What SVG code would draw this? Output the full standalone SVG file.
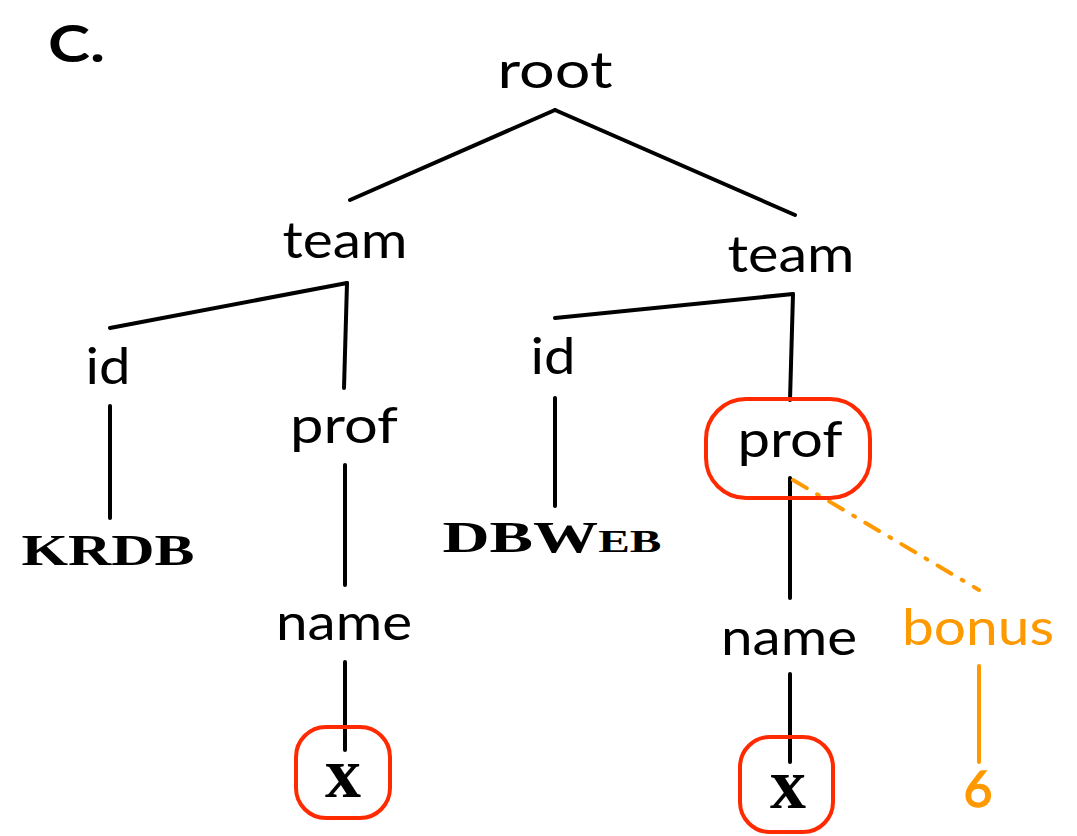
<svg xmlns="http://www.w3.org/2000/svg" width="1077" height="836" viewBox="0 0 1077 836">
<style>
.t{font-family:Lato,"Open Sans",sans-serif;font-size:50px;fill:#000;text-anchor:middle}
.o{fill:#FF9900}
.caps{font-family:"Liberation Serif",serif;font-weight:bold;font-size:44px;text-anchor:middle}
.xv{font-family:"Liberation Serif",serif;font-weight:bold;font-size:72px;text-anchor:middle}
.e{stroke:#000;stroke-width:4;stroke-linecap:round;fill:none}
.eo{stroke:#FF9900;stroke-width:4;stroke-linecap:round;fill:none}
.box{fill:none;stroke:#FF2A00;stroke-width:4}
</style>
<rect width="1077" height="836" fill="#fff"/>
<text x="48" y="62" font-family="Lato,sans-serif" font-weight="bold" font-size="52" textLength="57" lengthAdjust="spacingAndGlyphs">C.</text>
<g id="connectors">
<line class="e" x1="555" y1="110" x2="350" y2="200"/>
<line class="e" x1="555" y1="110" x2="795" y2="215"/>
<line class="e" x1="347" y1="283" x2="110" y2="328"/>
<line class="e" x1="347" y1="283" x2="344" y2="388"/>
<line class="e" x1="110" y1="406" x2="110" y2="518"/>
<line class="e" x1="345" y1="465" x2="345" y2="585"/>
<line class="e" x1="345" y1="662" x2="345" y2="750"/>
<line class="e" x1="793" y1="294" x2="555" y2="318"/>
<line class="e" x1="793" y1="294" x2="790" y2="400"/>
<line class="e" x1="555" y1="398" x2="555" y2="506"/>
<line class="e" x1="790" y1="478" x2="790" y2="598"/>
<line class="e" x1="790" y1="674" x2="790" y2="762"/>
<line class="eo" x1="793" y1="480" x2="979" y2="590" stroke-dasharray="16 12 2 12"/>
<line class="eo" x1="979" y1="666" x2="979" y2="762"/>
</g>
<g id="root"><text class="t" x="555" y="88" textLength="115" lengthAdjust="spacingAndGlyphs">root</text></g>
<g id="team1"><text class="t" x="345" y="258" textLength="125" lengthAdjust="spacingAndGlyphs">team</text></g>
<g id="team2"><text class="t" x="791" y="272" textLength="127" lengthAdjust="spacingAndGlyphs">team</text></g>
<g id="id1"><text class="t" x="108" y="384" textLength="45" lengthAdjust="spacingAndGlyphs">id</text></g>
<g id="krdb"><text class="caps" x="108" y="565" textLength="173" lengthAdjust="spacingAndGlyphs">KRDB</text></g>
<g id="prof1"><text class="t" x="344" y="443" textLength="108" lengthAdjust="spacingAndGlyphs">prof</text></g>
<g id="name1"><text class="t" x="344" y="640" textLength="136" lengthAdjust="spacingAndGlyphs">name</text></g>
<g id="x1"><rect class="box" x="296" y="727" width="94" height="91" rx="30"/><text class="xv" x="343" y="797">x</text></g>
<g id="id2"><text class="t" x="553" y="374" textLength="45" lengthAdjust="spacingAndGlyphs">id</text></g>
<g id="dbweb"><text class="caps" x="552" y="552" textLength="219" lengthAdjust="spacingAndGlyphs">DBW<tspan font-size="32">EB</tspan></text></g>
<g id="prof2"><rect class="box" x="706" y="399" width="164" height="99" rx="40"/><text class="t" x="790" y="457" textLength="105" lengthAdjust="spacingAndGlyphs">prof</text></g>
<g id="name2"><text class="t" x="789" y="655" textLength="136" lengthAdjust="spacingAndGlyphs">name</text></g>
<g id="x2"><rect class="box" x="740" y="737" width="93" height="95" rx="30"/><text class="xv" x="788" y="808">x</text></g>
<g id="bonus"><text class="t o" x="978" y="645" textLength="152" lengthAdjust="spacingAndGlyphs">bonus</text></g>
<g id="six"><text class="t o" x="978" y="807" stroke="#FF9900" stroke-width="1.5">6</text></g>
</svg>
